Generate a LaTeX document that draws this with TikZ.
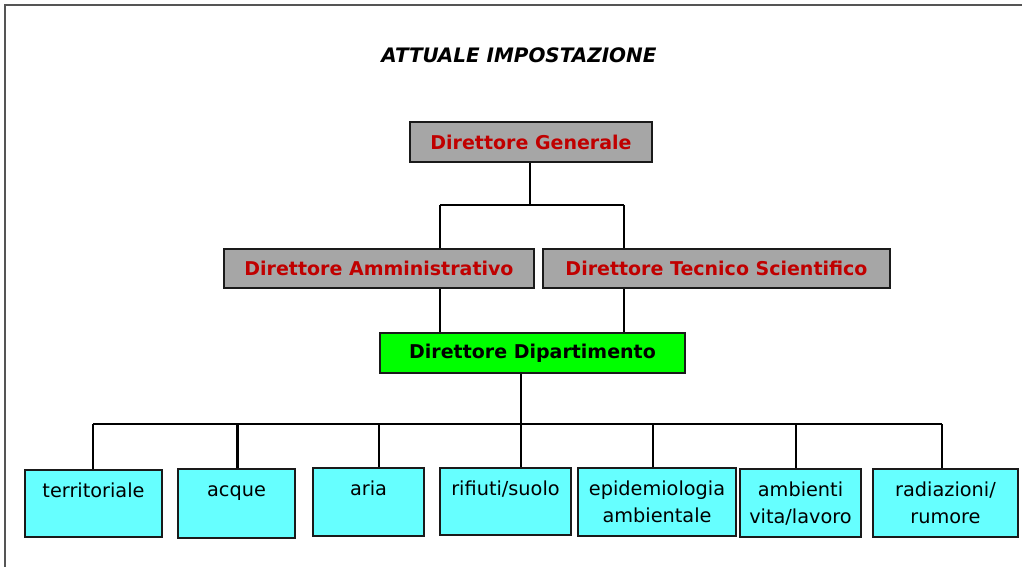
\documentclass[tikz,border=0pt]{standalone}
\usepackage{fontspec}
\setmainfont{DejaVu Sans}
\usepackage{graphicx}
\definecolor{dred}{HTML}{C00000}
\definecolor{boxgray}{HTML}{A6A6A6}
\definecolor{boxgreen}{HTML}{00FF00}
\definecolor{boxcyan}{HTML}{66FFFF}
\definecolor{edge}{HTML}{1A1A1A}
\definecolor{frame}{HTML}{555555}
\tikzset{
  topbox/.style={draw=edge, line width=1.5pt, fill=boxgray, text=dred, inner sep=0pt,
    font=\fontsize{19}{23}\selectfont\bfseries},
  deptbox/.style={topbox, fill=boxgreen, text=black},
  unitbox/.style={draw=edge, line width=1.5pt, fill=boxcyan, inner sep=0pt},
  unittext/.style={anchor=north, inner sep=0pt, align=center, text=black,
    font=\fontsize{19.3}{27}\selectfont},
  conn/.style={line width=2pt, black},
}
\begin{document}
\begin{tikzpicture}[x=1pt,y=-1pt]
\useasboundingbox (0,0) rectangle (1022,567);
% page frame
\draw[frame, line width=1.5pt] (5,567) -- (5,5) -- (1022,5);
% title
\node (title) at (519,55) {\resizebox{275pt}{!}{\fontsize{19}{23}\selectfont\bfseries\itshape ATTUALE IMPOSTAZIONE}};
% top boxes
\node[topbox, minimum width=242pt, minimum height=40pt] (dg) at (531,142) {Direttore Generale};
\node[topbox, minimum width=310pt, minimum height=39pt] (da) at (379,268.5) {Direttore Amministrativo};
\node[topbox, minimum width=347pt, minimum height=39pt] (dts) at (716.5,268.5) {Direttore Tecnico Scientifico};
\node[deptbox, minimum width=305pt, minimum height=40pt] (dd) at (532.5,353) {Direttore Dipartimento};
% unit boxes
\node[unitbox, minimum width=137pt, minimum height=67pt] (b1) at (93.5,503.5) {};
\node[unitbox, minimum width=117pt, minimum height=69pt] (b2) at (236.5,503.5) {};
\node[unitbox, minimum width=111pt, minimum height=68pt] (b3) at (368.5,502) {};
\node[unitbox, minimum width=131pt, minimum height=67pt] (b4) at (505.5,501.5) {};
\node[unitbox, minimum width=158pt, minimum height=68pt] (b5) at (657,502) {};
\node[unitbox, minimum width=121pt, minimum height=68pt] (b6) at (800.5,503) {};
\node[unitbox, minimum width=145pt, minimum height=68pt] (b7) at (945.5,503) {};
\node[unittext] (t1) at ([yshift=-9pt]b1.north) {\strut territoriale};
\node[unittext] (t2) at ([yshift=-9pt]b2.north) {\strut acque};
\node[unittext] (t3) at ([yshift=-9pt]b3.north) {\strut aria};
\node[unittext] (t4) at ([yshift=-9pt]b4.north) {\strut rifiuti/suolo};
\node[unittext] (t5) at ([yshift=-9pt]b5.north) {\strut epidemiologia\\ambientale};
\node[unittext] (t6) at ([yshift=-9pt]b6.north) {\strut ambienti\\vita/lavoro};
\node[unittext] (t7) at ([yshift=-9pt]b7.north) {\strut radiazioni/\\rumore};
% junctions
\coordinate (j0) at (530,205);
\coordinate (jl) at (440,205);
\coordinate (jr) at (624,205);
\coordinate (bus) at (521,424);
\coordinate (busl) at (93,424);
\coordinate (busr) at (942,424);
% connectors
\draw[conn] (dg.south -| j0) -- (j0);
\draw[conn] (jl) -- (jr);
\draw[conn] (jl) -- (da.north -| jl);
\draw[conn] (jr) -- (dts.north -| jr);
\draw[conn] (da.south -| jl) -- (dd.north -| jl);
\draw[conn] (dts.south -| jr) -- (dd.north -| jr);
\draw[conn] (dd.south -| bus) -- (bus);
\draw[conn] (busl) -- (busr);
\draw[conn] (busl) -- (b1.north -| busl);
\draw[conn, line width=3pt] (237,424) -- (b2.north -| 237,0);
\draw[conn] (379,424) -- (b3.north -| 379,0);
\draw[conn] (bus) -- (b4.north -| bus);
\draw[conn] (653,424) -- (b5.north -| 653,0);
\draw[conn] (796,424) -- (b6.north -| 796,0);
\draw[conn] (busr) -- (b7.north -| busr);
\end{tikzpicture}
\end{document}
